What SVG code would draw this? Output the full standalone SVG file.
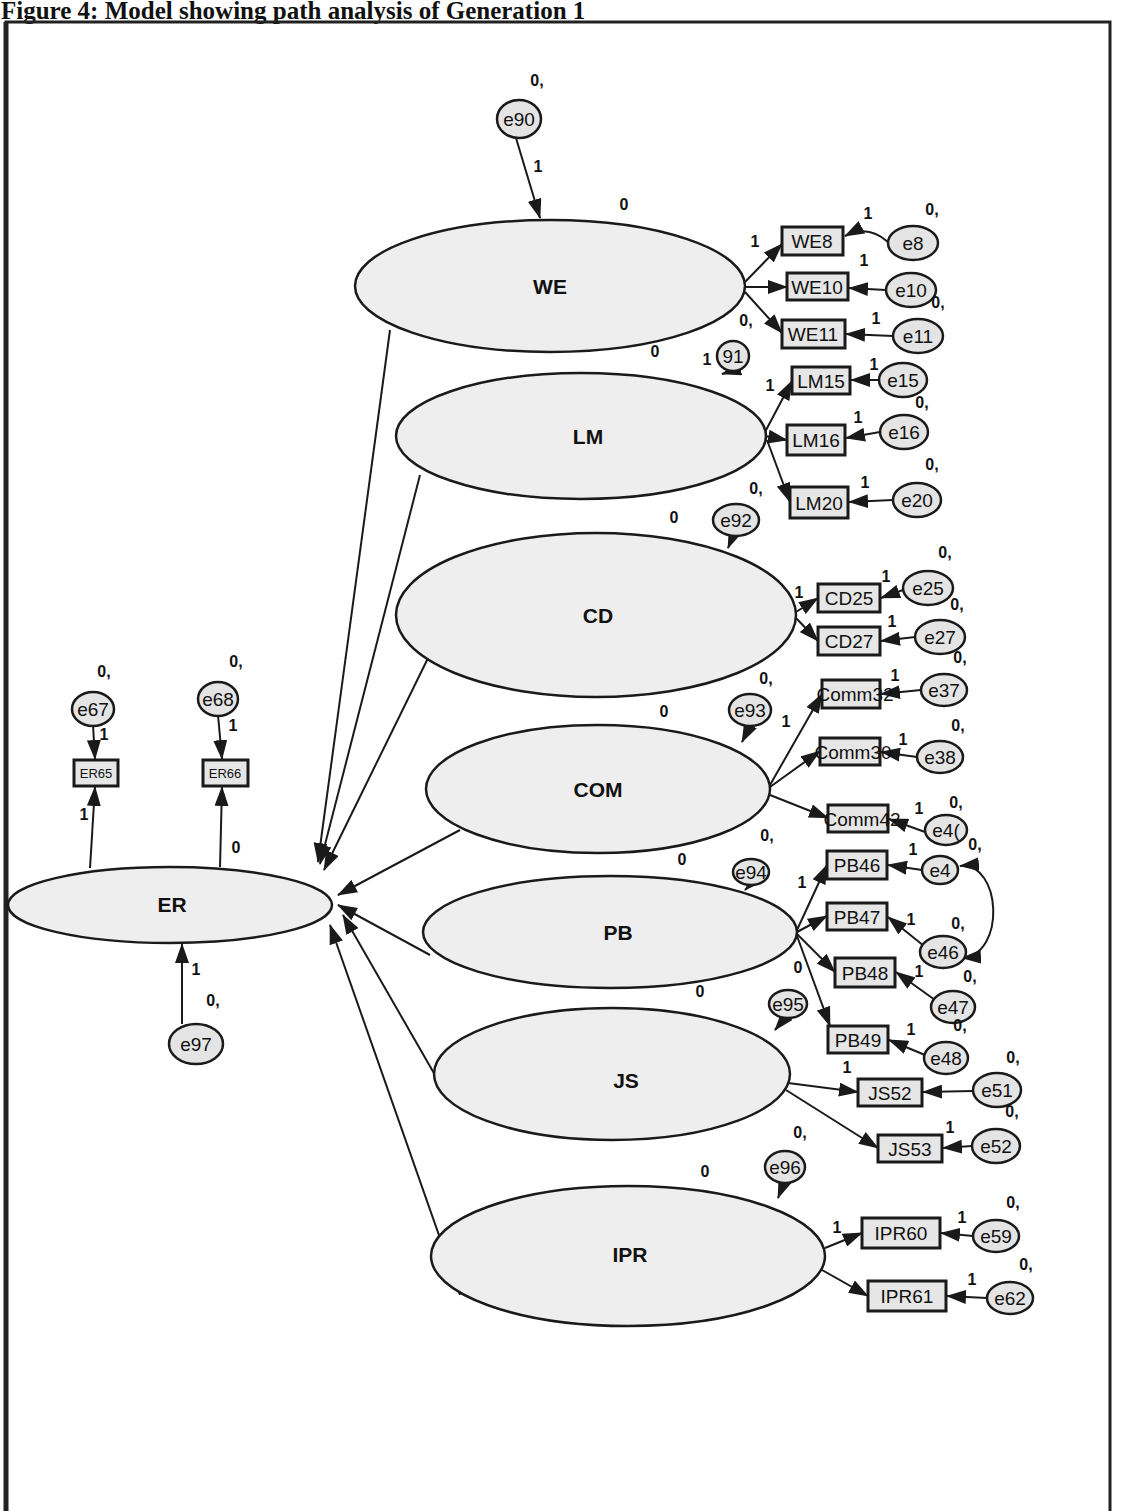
<svg xmlns="http://www.w3.org/2000/svg" width="1124" height="1511" viewBox="0 0 1124 1511">
<style>
.lat{fill:#eeeeee;stroke:#1a1a1a;stroke-width:2.5}
.err{fill:#e4e4e4;stroke:#1a1a1a;stroke-width:2.5}
.obs{fill:#e6e6e6;stroke:#1a1a1a;stroke-width:3}
.lt{font-family:"Liberation Sans",Arial,sans-serif;font-size:21px;font-weight:bold;fill:#111;text-anchor:middle}
.ot{font-family:"Liberation Sans",Arial,sans-serif;font-size:19px;fill:#111;text-anchor:middle}
.os{font-family:"Liberation Sans",Arial,sans-serif;font-size:13px;fill:#111;text-anchor:middle}
.et{font-family:"Liberation Sans",Arial,sans-serif;font-size:19px;fill:#111;text-anchor:middle}
.n{font-family:"Liberation Sans",Arial,sans-serif;font-size:16px;font-weight:bold;fill:#111;text-anchor:middle}
.c{fill:none;stroke:#1a1a1a;stroke-width:2;marker-end:url(#ah)}
</style>
<defs>
<marker id="ah" markerUnits="userSpaceOnUse" markerWidth="20" markerHeight="14" refX="19" refY="7" orient="auto">
<path d="M0,0 L20,7 L0,14 z" fill="#1a1a1a"/>
</marker>
<marker id="ahs" markerUnits="userSpaceOnUse" markerWidth="20" markerHeight="14" refX="1" refY="7" orient="auto">
<path d="M20,0 L0,7 L20,14 z" fill="#1a1a1a"/>
</marker>
</defs>
<rect width="1124" height="1511" fill="#fff"/>
<text x="1" y="19" font-family="Liberation Serif,Times New Roman,serif" font-size="25" font-weight="bold" fill="#111">Figure 4: Model showing path analysis of Generation 1</text>
<rect x="6" y="22" width="1104" height="1510" fill="none" stroke="#222" stroke-width="3"/>
<line x1="6" y1="22" x2="6" y2="1511" stroke="#222" stroke-width="5"/>

<g id="connectors">
<path class="c" d="M516,138 L540,218"/>
<path class="c" d="M390,330 L318,862"/>
<path class="c" d="M420,475 L320,864"/>
<path class="c" d="M432,650 L324,870"/>
<path class="c" d="M460,830 L338,895"/>
<path class="c" d="M430,955 L338,905"/>
<path class="c" d="M435,1075 L343,915"/>
<path class="c" d="M460,1295 L330,925"/>
<path class="c" d="M745,282 L782,244"/>
<path class="c" d="M745,287 L787,287"/>
<path class="c" d="M745,292 L782,333"/>
<path class="c" d="M888,242 Q868,224 845,236"/>
<path class="c" d="M886,290 L849,288"/>
<path class="c" d="M893,336 L846,334"/>
<path class="c" d="M765,432 L792,381"/>
<path class="c" d="M765,436 L787,440"/>
<path class="c" d="M767,440 L790,502"/>
<path class="c" d="M879,380 L851,380"/>
<path class="c" d="M880,432 L846,438"/>
<path class="c" d="M893,500 L849,502"/>
<path class="c" d="M796,612 L818,598"/>
<path class="c" d="M796,618 L818,641"/>
<path class="c" d="M903,590 L881,598"/>
<path class="c" d="M915,637 L881,641"/>
<path class="c" d="M770,785 L822,694"/>
<path class="c" d="M770,787 L820,751"/>
<path class="c" d="M770,795 L828,818"/>
<path class="c" d="M921,690 L881,694"/>
<path class="c" d="M917,757 L881,752"/>
<path class="c" d="M925,832 L889,819"/>
<path class="c" d="M797,930 L827,865"/>
<path class="c" d="M797,932 L827,916"/>
<path class="c" d="M797,934 L835,972"/>
<path class="c" d="M797,936 L830,1026"/>
<path class="c" d="M922,870 L888,865"/>
<path class="c" d="M924,946 L888,917"/>
<path class="c" d="M935,1000 L896,972"/>
<path class="c" d="M925,1055 L889,1040"/>
<path d="M960,866 C1002,862 1006,955 962,958" fill="none" stroke="#1a1a1a" stroke-width="2" marker-start="url(#ahs)" marker-end="url(#ah)"/>
<path class="c" d="M788,1083 L858,1092"/>
<path class="c" d="M786,1090 L878,1148"/>
<path class="c" d="M973,1091 L923,1092"/>
<path class="c" d="M972,1146 L943,1148"/>
<path class="c" d="M825,1248 L862,1233"/>
<path class="c" d="M822,1270 L868,1296"/>
<path class="c" d="M973,1236 L941,1233"/>
<path class="c" d="M987,1298 L947,1296"/>
<path class="c" d="M732,371 L722,374"/>
<path class="c" d="M733,536 L728,548"/>
<path class="c" d="M750,726 L742,742"/>
<path class="c" d="M750,885 L745,890"/>
<path class="c" d="M785,1018 L775,1030"/>
<path class="c" d="M784,1183 L778,1198"/>
<path class="c" d="M90,868 L95,787"/>
<path class="c" d="M220,867 L222,787"/>
<path class="c" d="M93,725 L95,759"/>
<path class="c" d="M218,715 L222,759"/>
<path class="c" d="M182,1024 L182,944"/>
</g>

<g id="WE"><ellipse class="lat" cx="550" cy="286" rx="195" ry="66"/><text class="lt" x="550" y="294">WE</text></g>
<g id="LM"><ellipse class="lat" cx="581" cy="436" rx="185" ry="63"/><text class="lt" x="588" y="444">LM</text></g>
<g id="CD"><ellipse class="lat" cx="596" cy="615" rx="200" ry="82"/><text class="lt" x="598" y="623">CD</text></g>
<g id="COM"><ellipse class="lat" cx="598" cy="789" rx="172" ry="64"/><text class="lt" x="598" y="797">COM</text></g>
<g id="PB"><ellipse class="lat" cx="610" cy="932" rx="187" ry="56"/><text class="lt" x="618" y="940">PB</text></g>
<g id="JS"><ellipse class="lat" cx="612" cy="1074" rx="178" ry="66"/><text class="lt" x="626" y="1088">JS</text></g>
<g id="IPR"><ellipse class="lat" cx="628" cy="1256" rx="197" ry="70"/><text class="lt" x="630" y="1262">IPR</text></g>
<g id="ER"><ellipse class="lat" cx="170" cy="905" rx="162" ry="38"/><text class="lt" x="172" y="912">ER</text></g>

<g id="e90"><ellipse class="err" cx="519" cy="119" rx="22" ry="19"/><text class="et" x="519" y="126">e90</text></g>
<g id="e91"><ellipse class="err" cx="733" cy="356" rx="16" ry="15"/><text class="et" x="733" y="363">91</text></g>
<g id="e92"><ellipse class="err" cx="736" cy="520" rx="23" ry="16"/><text class="et" x="736" y="527">e92</text></g>
<g id="e93"><ellipse class="err" cx="750" cy="710" rx="21" ry="16"/><text class="et" x="750" y="717">e93</text></g>
<g id="e94"><ellipse class="err" cx="751" cy="872" rx="18" ry="13"/><text class="et" x="751" y="879">e94</text></g>
<g id="e95"><ellipse class="err" cx="788" cy="1004" rx="19" ry="14"/><text class="et" x="788" y="1011">e95</text></g>
<g id="e96"><ellipse class="err" cx="785" cy="1167" rx="20" ry="16"/><text class="et" x="785" y="1174">e96</text></g>
<g id="e97"><ellipse class="err" cx="196" cy="1044" rx="27" ry="20"/><text class="et" x="196" y="1051">e97</text></g>
<g id="e67"><ellipse class="err" cx="93" cy="709" rx="21" ry="17"/><text class="et" x="93" y="716">e67</text></g>
<g id="e68"><ellipse class="err" cx="218" cy="699" rx="20" ry="17"/><text class="et" x="218" y="706">e68</text></g>

<g id="e8"><ellipse class="err" cx="913" cy="243" rx="25" ry="17"/><text class="et" x="913" y="250">e8</text></g>
<g id="e10"><ellipse class="err" cx="911" cy="290" rx="25" ry="17"/><text class="et" x="911" y="297">e10</text></g>
<g id="e11"><ellipse class="err" cx="918" cy="336" rx="25" ry="17"/><text class="et" x="918" y="343">e11</text></g>
<g id="e15"><ellipse class="err" cx="903" cy="380" rx="24" ry="17"/><text class="et" x="903" y="387">e15</text></g>
<g id="e16"><ellipse class="err" cx="904" cy="432" rx="24" ry="17"/><text class="et" x="904" y="439">e16</text></g>
<g id="e20"><ellipse class="err" cx="917" cy="500" rx="24" ry="17"/><text class="et" x="917" y="507">e20</text></g>
<g id="e25"><ellipse class="err" cx="928" cy="588" rx="25" ry="17"/><text class="et" x="928" y="595">e25</text></g>
<g id="e27"><ellipse class="err" cx="940" cy="637" rx="25" ry="17"/><text class="et" x="940" y="644">e27</text></g>
<g id="e37"><ellipse class="err" cx="944" cy="690" rx="23" ry="16"/><text class="et" x="944" y="697">e37</text></g>
<g id="e38"><ellipse class="err" cx="940" cy="757" rx="23" ry="16"/><text class="et" x="940" y="764">e38</text></g>
<g id="e40"><ellipse class="err" cx="946" cy="830" rx="21" ry="15"/><text class="et" x="946" y="837">e4(</text></g>
<g id="e45"><ellipse class="err" cx="940" cy="870" rx="18" ry="14"/><text class="et" x="940" y="877">e4</text></g>
<g id="e46"><ellipse class="err" cx="943" cy="952" rx="23" ry="16"/><text class="et" x="943" y="959">e46</text></g>
<g id="e47"><ellipse class="err" cx="953" cy="1007" rx="22" ry="16"/><text class="et" x="953" y="1014">e47</text></g>
<g id="e48"><ellipse class="err" cx="946" cy="1058" rx="22" ry="16"/><text class="et" x="946" y="1065">e48</text></g>
<g id="e51"><ellipse class="err" cx="997" cy="1090" rx="24" ry="17"/><text class="et" x="997" y="1097">e51</text></g>
<g id="e52"><ellipse class="err" cx="996" cy="1146" rx="24" ry="17"/><text class="et" x="996" y="1153">e52</text></g>
<g id="e59"><ellipse class="err" cx="996" cy="1236" rx="23" ry="16"/><text class="et" x="996" y="1243">e59</text></g>
<g id="e62"><ellipse class="err" cx="1010" cy="1298" rx="23" ry="16"/><text class="et" x="1010" y="1305">e62</text></g>

<g id="WE8"><rect class="obs" x="782" y="227" width="61" height="28"/><text class="ot" x="812" y="248">WE8</text></g>
<g id="WE10"><rect class="obs" x="787" y="273" width="61" height="27"/><text class="ot" x="817" y="294">WE10</text></g>
<g id="WE11"><rect class="obs" x="782" y="320" width="63" height="28"/><text class="ot" x="813" y="341">WE11</text></g>
<g id="LM15"><rect class="obs" x="792" y="367" width="58" height="27"/><text class="ot" x="821" y="388">LM15</text></g>
<g id="LM16"><rect class="obs" x="787" y="425" width="58" height="30"/><text class="ot" x="816" y="447">LM16</text></g>
<g id="LM20"><rect class="obs" x="790" y="487" width="58" height="31"/><text class="ot" x="819" y="510">LM20</text></g>
<g id="CD25"><rect class="obs" x="818" y="584" width="62" height="28"/><text class="ot" x="849" y="605">CD25</text></g>
<g id="CD27"><rect class="obs" x="818" y="627" width="62" height="28"/><text class="ot" x="849" y="648">CD27</text></g>
<g id="Comm1"><rect class="obs" x="822" y="680" width="58" height="28"/><text class="ot" x="855" y="701">Comm32</text></g>
<g id="Comm2"><rect class="obs" x="820" y="738" width="60" height="27"/><text class="ot" x="853" y="759">Comm30</text></g>
<g id="Comm3"><rect class="obs" x="828" y="805" width="60" height="27"/><text class="ot" x="862" y="826">Comm42</text></g>
<g id="PB46"><rect class="obs" x="827" y="851" width="60" height="28"/><text class="ot" x="857" y="872">PB46</text></g>
<g id="PB47"><rect class="obs" x="827" y="903" width="60" height="27"/><text class="ot" x="857" y="924">PB47</text></g>
<g id="PB48"><rect class="obs" x="835" y="958" width="60" height="29"/><text class="ot" x="865" y="980">PB48</text></g>
<g id="PB49"><rect class="obs" x="828" y="1026" width="60" height="27"/><text class="ot" x="858" y="1047">PB49</text></g>
<g id="JS52"><rect class="obs" x="858" y="1079" width="64" height="27"/><text class="ot" x="890" y="1100">JS52</text></g>
<g id="JS53"><rect class="obs" x="878" y="1135" width="64" height="27"/><text class="ot" x="910" y="1156">JS53</text></g>
<g id="IPR60"><rect class="obs" x="862" y="1218" width="78" height="30"/><text class="ot" x="901" y="1240">IPR60</text></g>
<g id="IPR61"><rect class="obs" x="868" y="1281" width="78" height="30"/><text class="ot" x="907" y="1303">IPR61</text></g>
<g id="ER65"><rect class="obs" x="74" y="760" width="44" height="26"/><text class="os" x="96" y="778">ER65</text></g>
<g id="ER66"><rect class="obs" x="203" y="760" width="45" height="26"/><text class="os" x="225" y="778">ER66</text></g>

<g id="labels">
<text class="n" x="537" y="86">0,</text>
<text class="n" x="538" y="172">1</text>
<text class="n" x="624" y="210">0</text>
<text class="n" x="932" y="215">0,</text>
<text class="n" x="868" y="219">1</text>
<text class="n" x="755" y="247">1</text>
<text class="n" x="864" y="266">1</text>
<text class="n" x="938" y="308">0,</text>
<text class="n" x="746" y="326">0,</text>
<text class="n" x="876" y="324">1</text>
<text class="n" x="655" y="357">0</text>
<text class="n" x="707" y="365">1</text>
<text class="n" x="770" y="391">1</text>
<text class="n" x="874" y="370">1</text>
<text class="n" x="922" y="408">0,</text>
<text class="n" x="858" y="423">1</text>
<text class="n" x="932" y="470">0,</text>
<text class="n" x="865" y="488">1</text>
<text class="n" x="756" y="494">0,</text>
<text class="n" x="674" y="523">0</text>
<text class="n" x="945" y="558">0,</text>
<text class="n" x="799" y="598">1</text>
<text class="n" x="886" y="582">1</text>
<text class="n" x="957" y="610">0,</text>
<text class="n" x="892" y="627">1</text>
<text class="n" x="960" y="663">0,</text>
<text class="n" x="766" y="684">0,</text>
<text class="n" x="664" y="717">0</text>
<text class="n" x="786" y="727">1</text>
<text class="n" x="895" y="681">1</text>
<text class="n" x="958" y="731">0,</text>
<text class="n" x="903" y="745">1</text>
<text class="n" x="956" y="808">0,</text>
<text class="n" x="919" y="814">1</text>
<text class="n" x="767" y="841">0,</text>
<text class="n" x="682" y="865">0</text>
<text class="n" x="802" y="888">1</text>
<text class="n" x="913" y="855">1</text>
<text class="n" x="975" y="850">0,</text>
<text class="n" x="911" y="925">1</text>
<text class="n" x="958" y="929">0,</text>
<text class="n" x="919" y="977">1</text>
<text class="n" x="970" y="982">0,</text>
<text class="n" x="798" y="973">0</text>
<text class="n" x="700" y="997">0</text>
<text class="n" x="911" y="1035">1</text>
<text class="n" x="960" y="1031">0,</text>
<text class="n" x="847" y="1073">1</text>
<text class="n" x="1013" y="1063">0,</text>
<text class="n" x="1012" y="1117">0,</text>
<text class="n" x="950" y="1133">1</text>
<text class="n" x="800" y="1138">0,</text>
<text class="n" x="705" y="1177">0</text>
<text class="n" x="837" y="1233">1</text>
<text class="n" x="1013" y="1208">0,</text>
<text class="n" x="962" y="1223">1</text>
<text class="n" x="1026" y="1270">0,</text>
<text class="n" x="972" y="1285">1</text>
<text class="n" x="104" y="677">0,</text>
<text class="n" x="236" y="667">0,</text>
<text class="n" x="104" y="740">1</text>
<text class="n" x="233" y="731">1</text>
<text class="n" x="84" y="820">1</text>
<text class="n" x="236" y="853">0</text>
<text class="n" x="196" y="975">1</text>
<text class="n" x="213" y="1006">0,</text>
</g>
</svg>
